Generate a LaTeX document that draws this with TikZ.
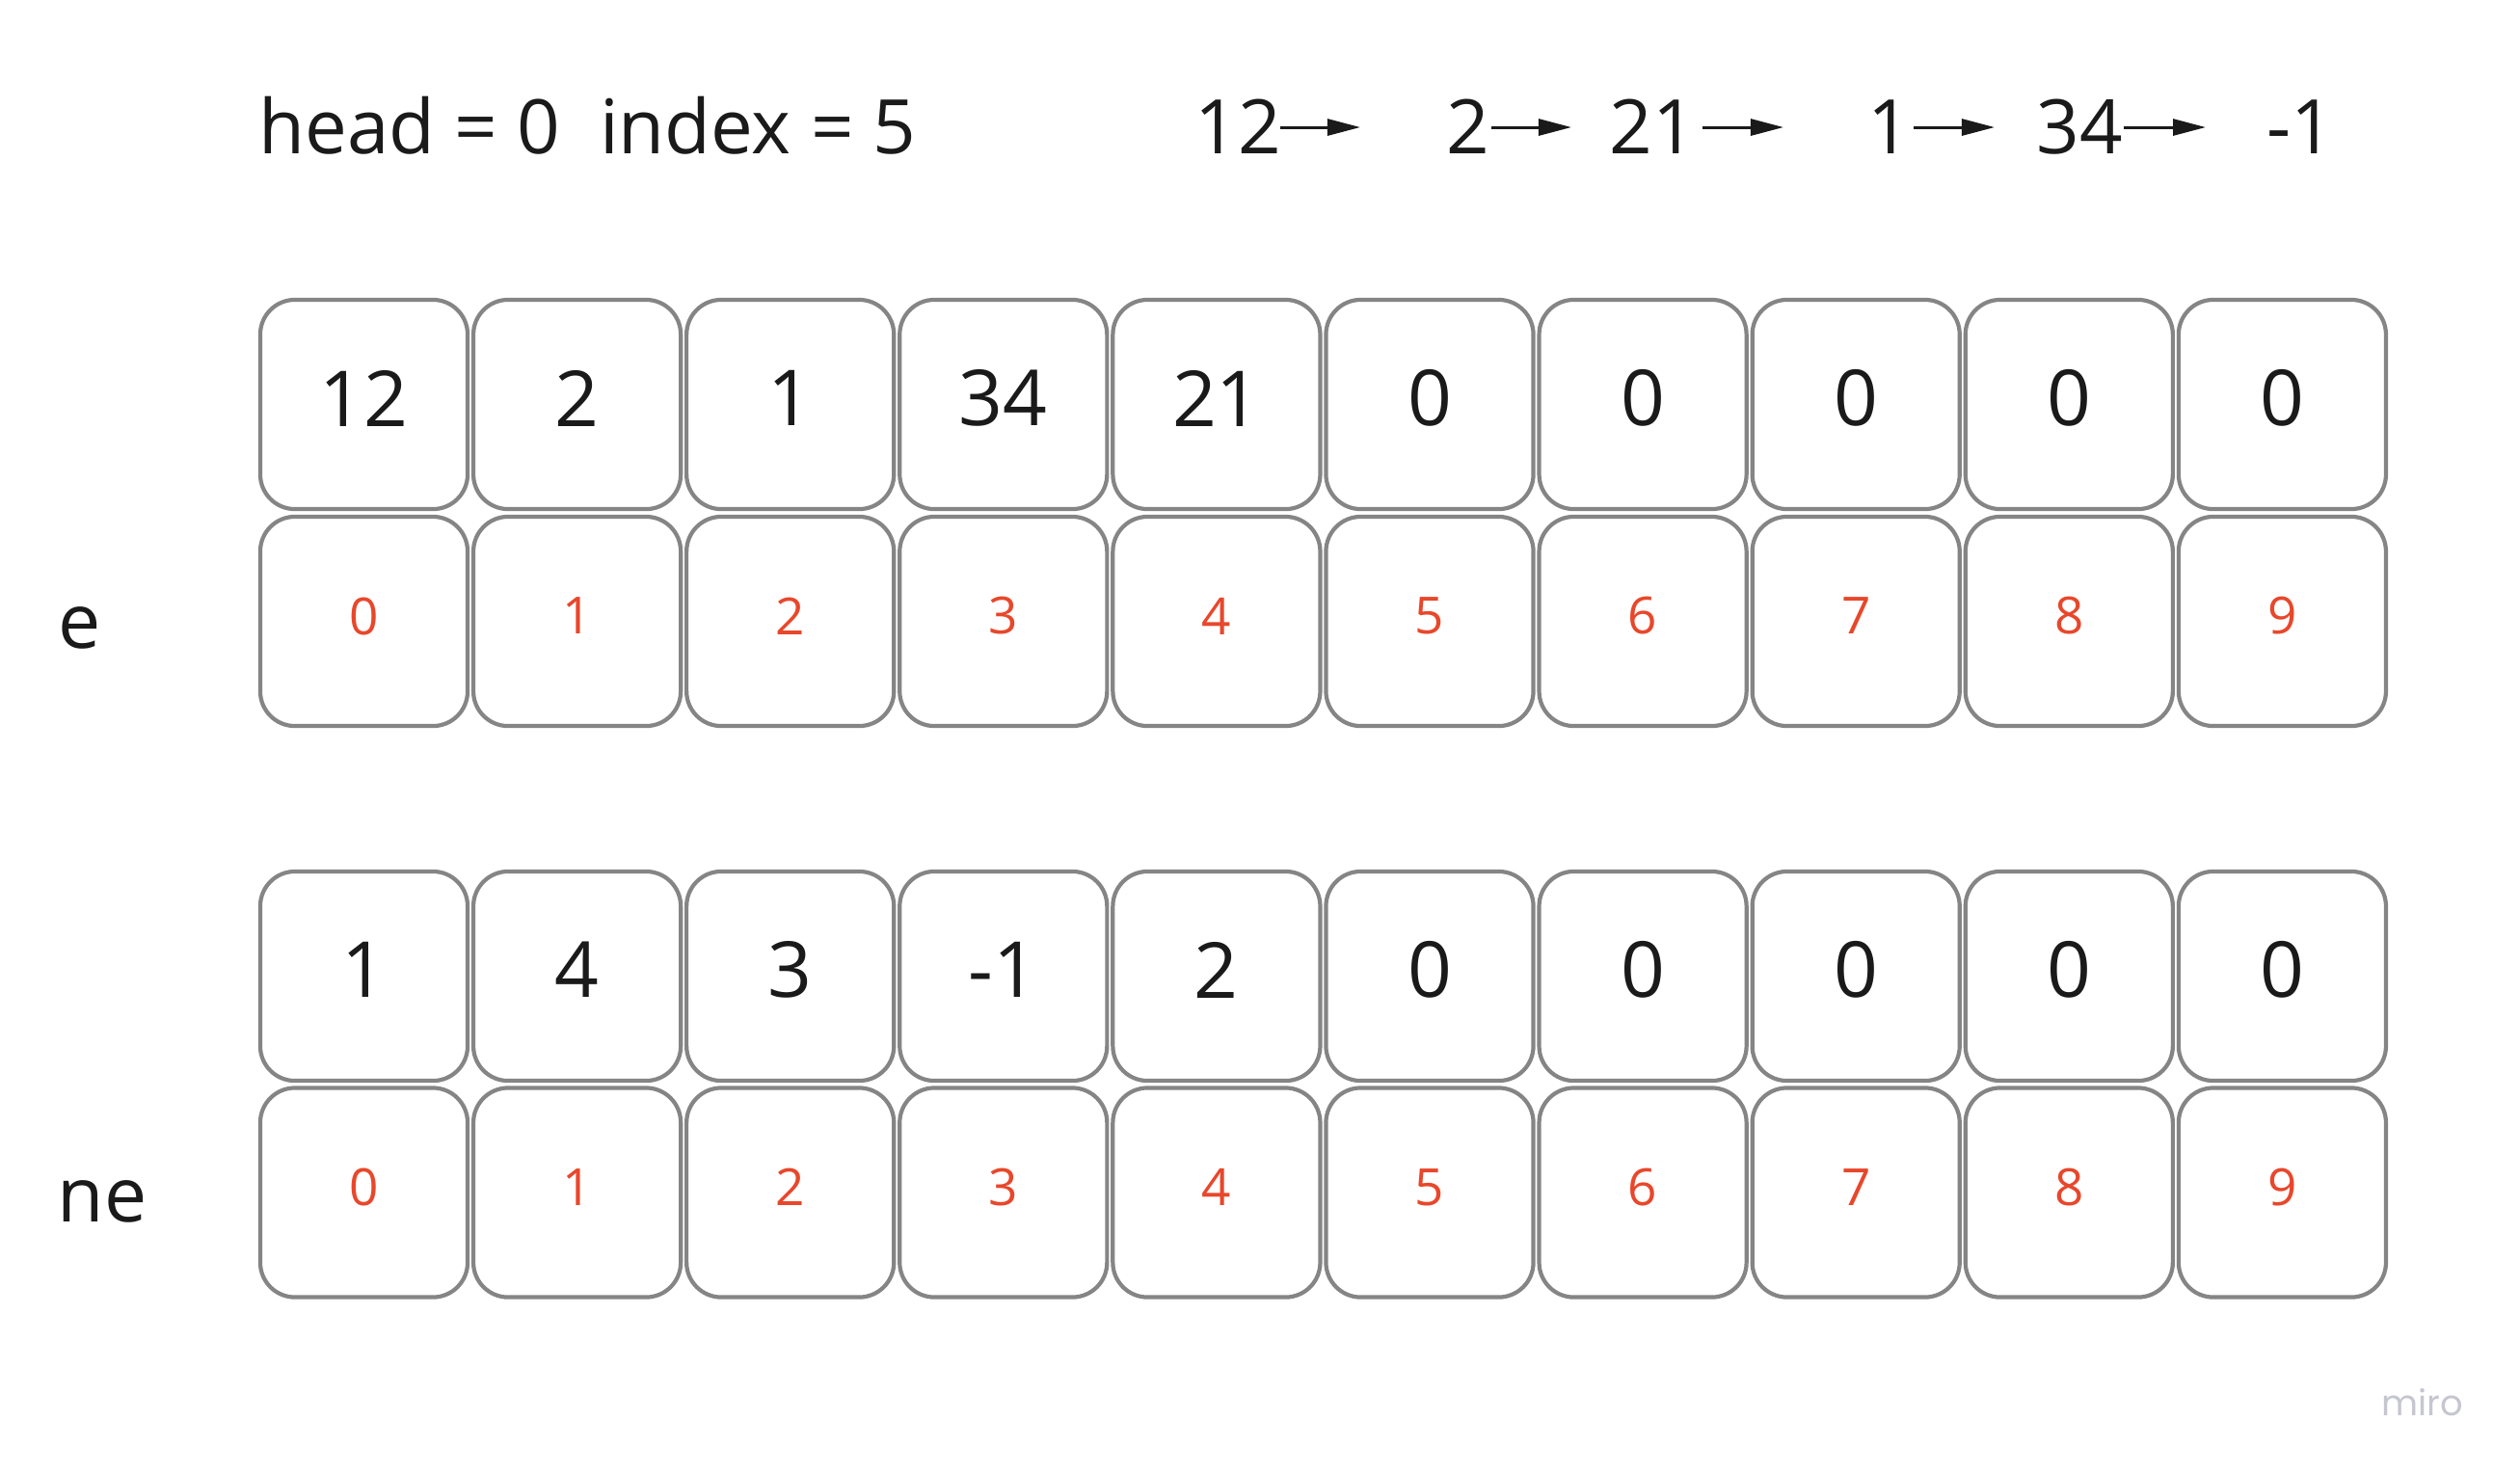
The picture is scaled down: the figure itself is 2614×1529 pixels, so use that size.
\documentclass[tikz,border=0pt]{standalone}
\usepackage{fontspec}
\setmainfont{Open Sans}
\newfontfamily\mirofont{Poppins}
\usetikzlibrary{arrows.meta}
\definecolor{boxgray}{HTML}{858585}
\definecolor{idxred}{HTML}{E8472B}
\definecolor{txt}{HTML}{1A1A1A}
\definecolor{mirogray}{HTML}{C5C6D0}
\begin{document}
\begin{tikzpicture}[x=0.01cm,y=-0.01cm,
  cell/.style={draw=boxgray,line width=0.042cm,rounded corners=0.36cm,
    minimum width=2.15cm,minimum height=2.17cm,inner sep=0pt,fill=white},
  valtxt/.style={inner sep=0pt,text=txt,font=\fontsize{22.8pt}{26pt}\selectfont},
  idxtxt/.style={inner sep=0pt,text=idxred,font=\fontsize{15.1pt}{18pt}\selectfont},
  bigtxt/.style={inner sep=0pt,text=txt,font=\fontsize{22.2pt}{26pt}\selectfont},
  lbltxt/.style={inner sep=0pt,text=txt,font=\fontsize{22.4pt}{26pt}\selectfont},
  arr/.style={draw=txt,line width=0.03cm,-{Triangle[length=0.34cm,width=0.17cm]}}
]
\useasboundingbox (0,0) rectangle (2614,1529);
\fill[white] (0,0) rectangle (2614,1529);

% header
\node[bigtxt,anchor=base west] (hd) at (268,159) {head = 0~~index = 5};

% chain
\node[bigtxt,anchor=base] (c1) at (1284,159) {12};
\node[bigtxt,anchor=base] (c2) at (1523,159) {2};
\node[bigtxt,anchor=base] (c3) at (1714,159) {21};
\node[bigtxt,anchor=base] (c4) at (1960,159) {1};
\node[bigtxt,anchor=base] (c5) at (2157,159) {34};
\node[bigtxt,anchor=base] (c6) at (2386,159) {-1};
\coordinate (a1s) at (1328,132); \coordinate (a1e) at (1411,132);
\coordinate (a2s) at (1547,132); \coordinate (a2e) at (1630,132);
\coordinate (a3s) at (1766,132); \coordinate (a3e) at (1850,132);
\coordinate (a4s) at (1985,132); \coordinate (a4e) at (2069,132);
\coordinate (a5s) at (2203,132); \coordinate (a5e) at (2288,132);
\draw[arr] (a1s) -- (a1e);
\draw[arr] (a2s) -- (a2e);
\draw[arr] (a3s) -- (a3e);
\draw[arr] (a4s) -- (a4e);
\draw[arr] (a5s) -- (a5e);

% row labels
\node[lbltxt,anchor=base west] (le) at (60,672) {e};
\node[lbltxt,anchor=base west] (lne) at (59,1267) {ne};

% e array
\foreach \v [count=\i from 0] in {12,2,1,34,21,0,0,0,0,0} {
  \node[cell] (ev\i) at (377.5+221.1*\i,419.5) {};
  \node[valtxt] (evt\i) at ([yshift=0.065cm]ev\i.center) {\v};
}
\foreach \i in {0,...,9} {
  \node[cell] (ei\i) at (377.5+221.1*\i,644.5) {};
  \node[idxtxt] (eit\i) at ([yshift=0.055cm]ei\i.center) {\i};
}

% ne array
\foreach \v [count=\i from 0] in {1,4,3,-1,2,0,0,0,0,0} {
  \node[cell] (nv\i) at (377.5+221.1*\i,1012.5) {};
  \node[valtxt] (nvt\i) at ([yshift=0.065cm]nv\i.center) {\v};
}
\foreach \i in {0,...,9} {
  \node[cell] (ni\i) at (377.5+221.1*\i,1237) {};
  \node[idxtxt] (nit\i) at ([yshift=0.055cm]ni\i.center) {\i};
}

% logo
\node[inner sep=0pt,anchor=base west,text=mirogray,font=\mirofont\fontsize{10.5pt}{12pt}\selectfont] (miro) at (2470,1468) {miro};
\end{tikzpicture}
\end{document}
